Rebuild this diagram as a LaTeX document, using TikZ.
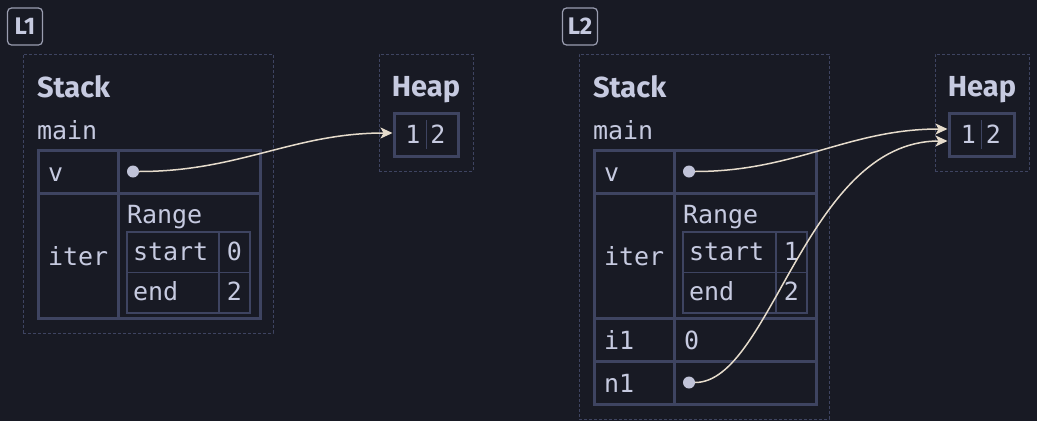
\documentclass[tikz,border=0pt]{standalone}
\usepackage{fontspec}
\setmainfont{Fira Sans}
\setmonofont{DejaVu Sans Mono}
\usetikzlibrary{arrows.meta,positioning}
\definecolor{bg}{HTML}{181A24}
\definecolor{ink}{HTML}{C6CAE0}
\definecolor{rule}{HTML}{3E4461}
\definecolor{ptr}{HTML}{E6DCCC}
\definecolor{tagline}{HTML}{9A9DB0}
\definecolor{dotfill}{HTML}{C0C3D8}

\begin{document}
\begin{tikzpicture}[x=1pt,y=-1pt,text=ink,outer sep=0pt,
  ptrline/.style={draw=ptr,line width=1.5pt,shorten >=1.5pt,-{Stealth[length=12pt,width=11pt,inset=3pt]}}]
  \tikzstyle{mono}=[font=\fontsize{25}{30}\ttfamily,inner sep=0pt]
  \tikzstyle{head}=[font=\fontsize{29}{34}\bfseries,inner sep=0pt]
  \tikzstyle{tag}=[draw=tagline,line width=1.2pt,rounded corners=4pt,minimum width=35pt,minimum height=37pt,inner sep=0pt,font=\fontsize{24}{28}\bfseries]
  \tikzstyle{frame}=[draw=rule,line width=1pt,dash pattern=on 3pt off 2pt,anchor=north west,minimum width=250pt,inner sep=0pt]
  \tikzstyle{cell}=[draw=rule,line width=3pt,inner xsep=10pt,inner ysep=0pt,minimum height=43pt,font=\fontsize{25}{30}\ttfamily,text height=20pt,text depth=0pt,align=left]
  \tikzstyle{keycell}=[cell,minimum width=80pt,text width=60pt]
  \tikzstyle{valcell}=[cell,minimum width=142pt,text width=122pt]
  \tikzstyle{icell}=[draw=rule,line width=1.2pt,inner xsep=6pt,inner ysep=0pt,minimum height=40.5pt,font=\fontsize{25}{30}\ttfamily,text height=16pt,text depth=0pt]
  \tikzstyle{heapbox}=[draw=rule,line width=3pt,minimum width=64pt,minimum height=43pt,inner sep=0pt]
  \tikzstyle{dot}=[circle,fill=dotfill,minimum size=12pt,inner sep=0pt]
  \path[use as bounding box,fill=bg] (0,0) rectangle (1037,421);

\node[tag] (L1) at (25,26.5) {L1};
\node[frame,minimum height=279pt] (stack1) at (23,54) {};
\node[head,anchor=base west] (stk1) at (37,97) {Stack};
\node[mono,anchor=base west] (main1) at (37,139) {main};
\node[keycell,anchor=north west] (v1k) at (38,150) {v};
\node[valcell,right=0pt of v1k] (v1v) {};
\node[keycell,below=0pt of v1k,minimum height=125pt] (it1k) {iter};
\node[valcell,right=0pt of it1k,minimum height=125pt] (it1v) {};
\node[mono,anchor=base west] (rng1) at ([xshift=9pt,yshift=-30pt]it1v.north west) {Range};
\node[icell,anchor=north west,minimum width=92pt,text width=80pt] (st1k) at ([xshift=9pt,yshift=-39pt]it1v.north west) {start};
\node[icell,right=0pt of st1k,minimum width=31pt] (st1v) {0};
\node[icell,below=0pt of st1k,minimum width=92pt,text width=80pt] (en1k) {end};
\node[icell,right=0pt of en1k,minimum width=31pt] (en1v) {2};
\node[dot] (v1dot) at ([xshift=15pt]v1v.west) {};

\node[frame,minimum width=94pt,minimum height=117pt] (heap1) at (379,54) {};
\node[head,anchor=base] (hp1) at (426,96) {Heap};
\node[heapbox] (h1) at (426,134.5) {};
\node[mono] (h1a) at ([xshift=-13pt]h1.center) {1};
\node[mono] (h1b) at ([xshift=12pt]h1.center) {2};
\draw[rule,line width=1pt] ([yshift=-7pt]h1.north) -- ([yshift=7pt]h1.south);

\node[tag] (L2) at (580,26.5) {L2};
\node[frame,minimum height=365pt] (stack2) at (579,54) {};
\node[head,anchor=base west] (stk2) at (593,97) {Stack};
\node[mono,anchor=base west] (main2) at (593,139) {main};
\node[keycell,anchor=north west] (v2k) at (594,150) {v};
\node[valcell,right=0pt of v2k] (v2v) {};
\node[keycell,below=0pt of v2k,minimum height=125pt] (it2k) {iter};
\node[valcell,right=0pt of it2k,minimum height=125pt] (it2v) {};
\node[mono,anchor=base west] (rng2) at ([xshift=9pt,yshift=-30pt]it2v.north west) {Range};
\node[icell,anchor=north west,minimum width=93pt,text width=81pt] (st2k) at ([xshift=9pt,yshift=-39pt]it2v.north west) {start};
\node[icell,right=0pt of st2k,minimum width=31pt] (st2v) {1};
\node[icell,below=0pt of st2k,minimum width=93pt,text width=81pt] (en2k) {end};
\node[icell,right=0pt of en2k,minimum width=31pt] (en2v) {2};
\node[keycell,below=0pt of it2k] (i2k) {i1};
\node[valcell,right=0pt of i2k] (i2v) {0};
\node[keycell,below=0pt of i2k] (n2k) {n1};
\node[valcell,right=0pt of n2k] (n2v) {};
\node[dot] (v2dot) at ([xshift=15pt]v2v.west) {};
\node[dot] (n2dot) at ([xshift=15pt]n2v.west) {};

\node[frame,minimum width=94pt,minimum height=117pt] (heap2) at (935,54) {};
\node[head,anchor=base] (hp2) at (982,96) {Heap};
\node[heapbox,minimum width=65pt] (h2) at (981.5,134.5) {};
\node[mono] (h2a) at ([xshift=-13pt]h2.center) {1};
\node[mono] (h2b) at ([xshift=12pt]h2.center) {2};
\draw[rule,line width=1pt] ([yshift=-7pt]h2.north) -- ([yshift=7pt]h2.south);

\draw[ptrline] (v1dot) to[out=0,in=180] ([yshift=1.5pt]h1.west);
\draw[ptrline] (v2dot) to[out=0,in=180] ([yshift=5.5pt]h2.west);
\draw[ptrline] (n2dot) .. controls +(82,0) and +(-143,0) .. ([yshift=-6.5pt]h2.west);
\end{tikzpicture}
\end{document}
